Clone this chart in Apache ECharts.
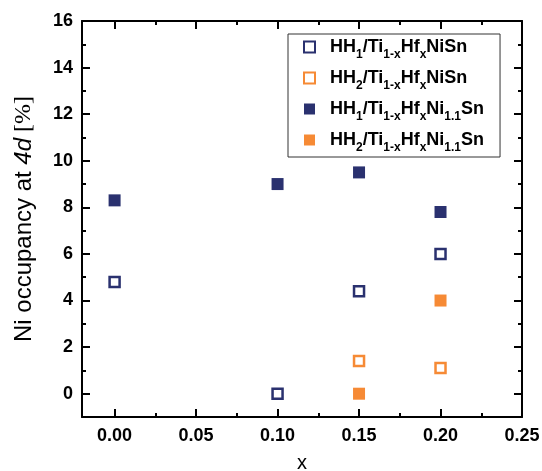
<!DOCTYPE html>
<html>
<head>
<meta charset="utf-8">
<script src="https://cdn.jsdelivr.net/npm/echarts@6/dist/echarts.min.js"></script>
<style>
  html, body { margin: 0; padding: 0; background: #fff; }
  #chart { width: 542px; height: 471px; }
</style>
</head>
<body>
<div id="chart"></div>
<script>
// Ni occupancy at the 4d site versus Hf content x
const seriesNames = ['HH1/Ti1-xHfxNiSn', 'HH2/Ti1-xHfxNiSn', 'HH1/Ti1-xHfxNi1.1Sn', 'HH2/Ti1-xHfxNi1.1Sn'];
const legendLabels = [
  '{g| }{m|HH}{s|1}{m|/Ti}{s|1-x}{m|Hf}{s|x}{m|NiSn}',
  '{g| }{m|HH}{s|2}{m|/Ti}{s|1-x}{m|Hf}{s|x}{m|NiSn}',
  '{g| }{m|HH}{s|1}{m|/Ti}{s|1-x}{m|Hf}{s|x}{m|Ni}{s|1.1}{m|Sn}',
  '{g| }{m|HH}{s|2}{m|/Ti}{s|1-x}{m|Hf}{s|x}{m|Ni}{s|1.1}{m|Sn}'
];
const hh1NiSn = [[0.00, 4.8], [0.10, 0.0], [0.15, 4.4], [0.20, 6.0]];
const hh2NiSn = [[0.15, 1.4], [0.20, 1.1]];
const hh1Ni11Sn = [[0.00, 8.3], [0.10, 9.0], [0.15, 9.5], [0.20, 7.8]];
const hh2Ni11Sn = [[0.15, 0.0], [0.20, 4.0]];

const xMajor = [0, 0.05, 0.10, 0.15, 0.20, 0.25];
const xMinor = [0.025, 0.075, 0.125, 0.175, 0.225];
const yMajor = [0, 2, 4, 6, 8, 10, 12, 14, 16];
const yMinor = [1, 3, 5, 7, 9, 11, 13, 15];

const NAVY = '#2a316f';
const ORANGE = '#f68a35';
const FONT = 'Liberation Sans, Arial, sans-serif';

function frameAxis(kind, pos, ticks, len, withLine, withLabels) {
  const ax = {
    type: 'value',
    position: pos,
    min: kind === 'x' ? -0.02 : -1,
    max: kind === 'x' ? 0.25 : 16,
    splitLine: { show: false },
    axisLine: { show: withLine, onZero: false, lineStyle: { color: '#000', width: 2 } },
    axisTick: { show: true, inside: true, length: len, customValues: ticks,
                lineStyle: { color: '#000', width: 2 } },
    axisLabel: { show: withLabels }
  };
  if (withLabels) {
    ax.axisLabel = {
      show: true, customValues: ticks, margin: kind === 'x' ? 10 : 9,
      color: '#000', fontFamily: FONT, fontWeight: 'bold', fontSize: 18,
      formatter: kind === 'x' ? (v => v.toFixed(2)) : (v => String(v))
    };
  }
  return ax;
}

const xAxes = [
  frameAxis('x', 'bottom', xMajor, 8, true, true),
  frameAxis('x', 'bottom', xMinor, 4, false, false),
  frameAxis('x', 'top', xMajor, 8, true, false),
  frameAxis('x', 'top', xMinor, 4, false, false)
];
xAxes[0].name = 'x';
xAxes[0].nameLocation = 'middle';
xAxes[0].nameGap = 36;
xAxes[0].nameTextStyle = { color: '#000', fontFamily: FONT, fontSize: 20 };

const yAxes = [
  frameAxis('y', 'left', yMajor, 8, true, true),
  frameAxis('y', 'left', yMinor, 4, false, false),
  frameAxis('y', 'right', yMajor, 8, true, false),
  frameAxis('y', 'right', yMinor, 4, false, false)
];
yAxes[0].name = '{a|Ni occupancy at }{b|4d}{c| [%]}';
yAxes[0].nameLocation = 'middle';
yAxes[0].nameRotate = 90;
yAxes[0].nameGap = 46;
yAxes[0].nameTextStyle = {
  rich: {
    a: { color: '#000', fontFamily: FONT, fontSize: 24 },
    b: { color: '#000', fontFamily: FONT, fontSize: 24, fontStyle: 'italic' },
    c: { color: '#000', fontFamily: 'Liberation Serif, serif', fontSize: 24 }
  }
};

function scatter(name, data, color, hollow) {
  return {
    type: 'scatter',
    name: name,
    data: data,
    xAxisIndex: 0,
    yAxisIndex: 0,
    symbol: 'rect',
    symbolSize: hollow ? 10 : 12,
    itemStyle: hollow
      ? { color: '#fff', borderColor: color, borderWidth: 2.5, opacity: 1 }
      : { color: color, opacity: 1 },
    emphasis: { disabled: true },
    z: 5
  };
}

const chart = echarts.init(document.getElementById('chart'), null, { renderer: 'canvas' });
chart.setOption({
  animation: false,
  backgroundColor: '#fff',
  grid: { left: 82, right: 20, top: 21, bottom: 54, containLabel: false, outerBoundsMode: 'none' },
  xAxis: xAxes,
  yAxis: yAxes,
  legend: {
    orient: 'vertical',
    left: 288,
    top: 34,
    padding: [4, 16, 3, 15],
    itemGap: 8,
    itemWidth: 11,
    itemHeight: 11,
    borderColor: '#333',
    borderWidth: 1,
    borderRadius: 0,
    backgroundColor: '#fff',
    data: seriesNames,
    formatter: name => legendLabels[seriesNames.indexOf(name)],
    textStyle: {
      rich: {
        g: { width: 10, fontSize: 18, lineHeight: 28 },
        m: { color: '#000', fontFamily: FONT, fontWeight: 'bold', fontSize: 18, lineHeight: 28 },
        s: { color: '#000', fontFamily: FONT, fontWeight: 'bold', fontSize: 12, lineHeight: 12, verticalAlign: 'bottom' }
      }
    }
  },
  series: [
    scatter(seriesNames[0], hh1NiSn, NAVY, true),
    scatter(seriesNames[1], hh2NiSn, ORANGE, true),
    scatter(seriesNames[2], hh1Ni11Sn, NAVY, false),
    scatter(seriesNames[3], hh2Ni11Sn, ORANGE, false)
  ]
});
</script>
</body>
</html>
